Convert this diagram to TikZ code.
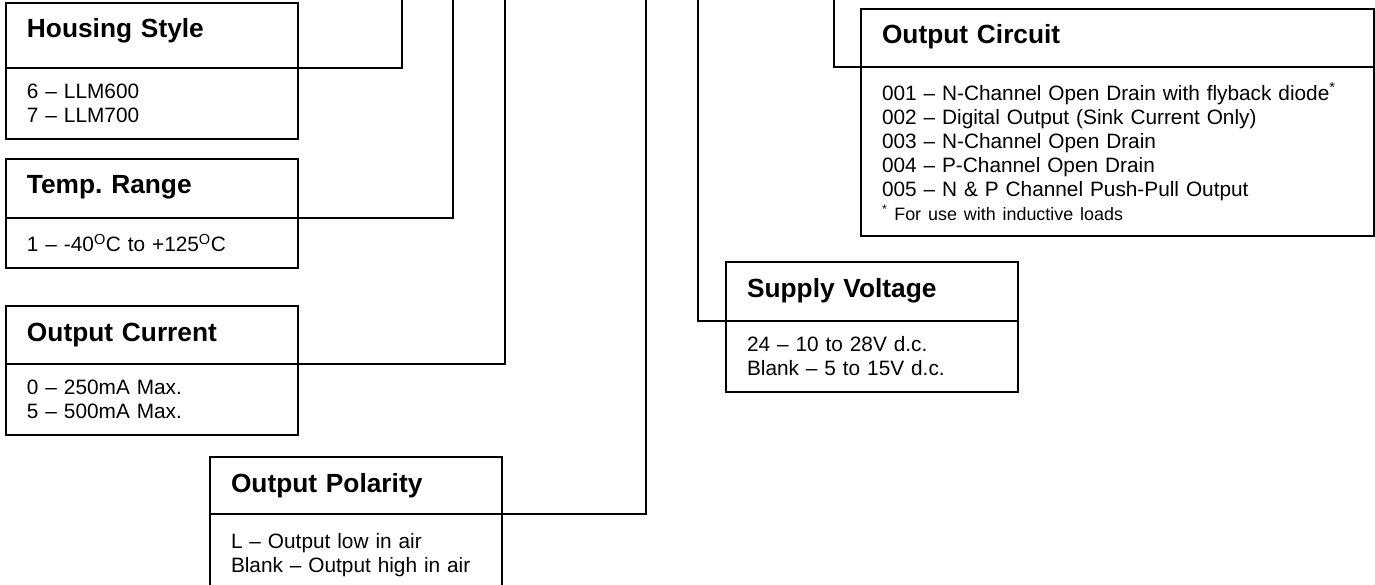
\documentclass[tikz,border=0pt]{standalone}
\usepackage{fontspec}
\setmainfont{Liberation Sans}
\usepackage{tikz}
\usetikzlibrary{positioning}
\frenchspacing

\newcommand{\headfont}{\fontsize{26.3}{30}\selectfont\bfseries}
\newcommand{\bodyfont}{\fontsize{20.8}{24}\selectfont}
\newcommand{\notefont}{\fontsize{17.9}{24}\selectfont}

\begin{document}
\begin{tikzpicture}[x=1pt, y=-1pt,
    part/.style={draw, line width=1.8pt, rectangle, anchor=north west, outer sep=0pt,
                 inner xsep=21pt, inner ysep=0pt, align=left, text width=250pt},
    head/.style={part, font=\headfont, text height=35pt, text depth={(#1-35)*1pt}},
    body/.style={part, font=\bodyfont, minimum height=#1*1pt},
    wide/.style={text width=471pt},
    link/.style={line width=1.8pt}]
                \useasboundingbox (0,0) rectangle (1375,585);
                % left column
                \node[head=65] (hs) at (6,3) {Housing Style};
                \node[body=71] (hsb) at (hs.south west) {6 – LLM600\\7 – LLM700};
                \node[head=59] (tr) at (6,159) {Temp. Range};
                \node[body=50] (trb) at (tr.south west) {1 – -40\textsuperscript{O}C to +125\textsuperscript{O}C};
                \node[head=58] (cur) at (6,306) {Output Current};
                \node[body=71] (curb) at (cur.south west) {0 – 250mA Max.\\5 – 500mA Max.};
                \node[head=57] (pol) at (210,457) {Output Polarity};
                \node[body=82] (polb) at (pol.south west) {L – Output low in air\\Blank – Output high in air};
                % right side
                \node[head=59] (sv) at (726,262) {Supply Voltage};
                \node[body=71] (svb) at (sv.south west) {24 – 10 to 28V d.c.\\Blank – 5 to 15V d.c.};
                \node[head=58, wide] (oc) at (861,9) {Output Circuit};
                \node[body=169, wide] (ocb) at (oc.south west) {001 – N-Channel Open Drain with flyback diode\textsuperscript{*}\\
                    002 – Digital Output (Sink Current Only)\\
                    003 – N-Channel Open Drain\\
                    004 – P-Channel Open Drain\\
                    005 – N \& P Channel Push-Pull Output\\
                    {\notefont\textsuperscript{*} For use with inductive loads}};
                % leads up to the part number
                \coordinate (t1) at (402,0);
                \coordinate (t2) at (453,0);
                \coordinate (t3) at (505,0);
                \coordinate (t4) at (646,0);
                \coordinate (t5) at (698,0);
                \coordinate (t6) at (834,0);
                \draw[link] (hs.south east) -| (t1);
                \draw[link] (tr.south east) -| (t2);
                \draw[link] (cur.south east) -| (t3);
                \draw[link] (pol.south east) -| (t4);
                \draw[link] (sv.south west) -| (t5);
                \draw[link] (oc.south west) -| (t6);
            \end{tikzpicture}
\end{document}
